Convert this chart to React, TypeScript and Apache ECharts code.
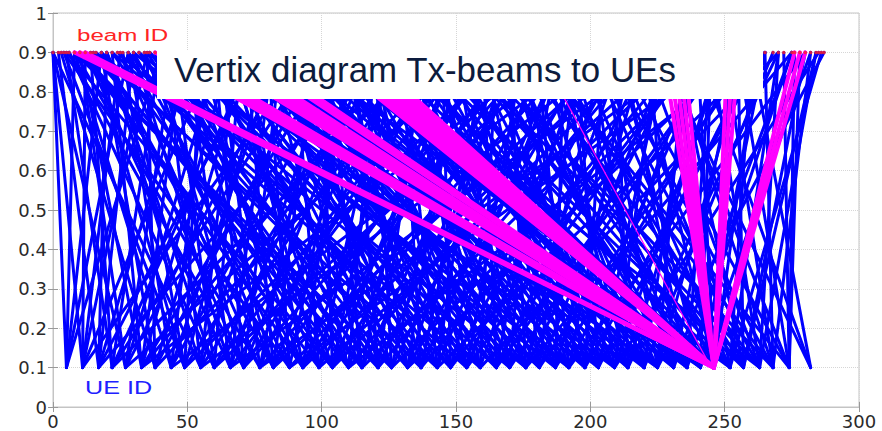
import React, { useEffect, useRef } from "react";
import * as echarts from "echarts";

// axis ranges / ticks
const xMin = 0;
const xMax = 300;
const xStep = 50;
const yMin = 0;
const yMax = 1;
const yStep = 0.1;

// levels of the two vertex rows
const beamLevel = 0.9;
const ueLevel = 0.1;

// UE positions along the bottom row
const ueIds = [
  5, 11, 17, 22, 27, 33, 38, 44, 49, 55, 60, 66, 71, 77, 82, 88, 93, 99, 104,
  110, 115, 121, 126, 132, 137, 143, 148, 154, 159, 165, 170, 176, 181, 187,
  192, 198, 203, 209, 214, 220, 225, 231, 236, 241, 246, 252, 257, 263, 268,
  274, 282,
];

// Tx-beams (top row) linked to each UE, blue links
const beamsPerUe = [
  [0, 18, 40, 8, 28],
  [0, 25, 60, 95, 12, 35],
  [2, 30, 52, 120, 20, 78],
  [5, 14, 75, 140, 40, 98],
  [0, 45, 88, 160, 10, 62],
  [10, 22, 66, 130, 185, 48, 105],
  [3, 35, 100, 150, 18, 72],
  [8, 58, 110, 200, 26, 84],
  [15, 28, 80, 170, 4, 55, 125],
  [0, 42, 92, 135, 210, 20, 68],
  [20, 70, 118, 190, 6, 45, 150],
  [12, 50, 105, 155, 225, 30, 82],
  [6, 38, 85, 145, 20, 60, 118, 178],
  [25, 62, 125, 180, 240, 8, 100],
  [18, 48, 98, 165, 34, 72, 130, 210],
  [4, 55, 112, 195, 250, 28, 80],
  [30, 72, 140, 215, 12, 50, 110, 170],
  [10, 44, 90, 160, 230, 66, 125],
  [22, 65, 128, 178, 5, 42, 100, 150, 220],
  [35, 80, 150, 205, 260, 15, 58, 120],
  [14, 56, 102, 170, 32, 85, 140, 235],
  [40, 95, 138, 220, 10, 65, 112, 175],
  [8, 68, 120, 185, 245, 36, 90, 155],
  [28, 86, 150, 200, 52, 110, 170, 255],
  [50, 108, 162, 235, 18, 75, 130, 190],
  [16, 74, 130, 190, 265, 42, 100, 160],
  [36, 96, 145, 212, 62, 118, 180, 240],
  [60, 115, 175, 240, 22, 88, 135, 200],
  [24, 82, 135, 198, 270, 50, 110, 165],
  [45, 105, 160, 222, 72, 128, 188, 250],
  [70, 125, 180, 250, 30, 95, 150, 212],
  [32, 90, 142, 205, 275, 60, 118, 170, 235],
  [55, 112, 168, 230, 80, 140, 195, 260],
  [78, 132, 190, 258, 42, 100, 160, 220],
  [40, 100, 152, 215, 280, 68, 125, 180, 245],
  [64, 120, 175, 240, 90, 145, 205, 265],
  [88, 140, 195, 262, 55, 115, 170, 228],
  [48, 110, 160, 225, 285, 80, 135, 190, 250],
  [75, 130, 182, 248, 100, 155, 210, 270],
  [95, 148, 200, 268, 65, 120, 175, 238],
  [58, 118, 170, 235, 287, 90, 145, 205, 258],
  [85, 138, 192, 255, 110, 165, 222, 275],
  [105, 158, 212, 275, 78, 130, 185, 245],
  [70, 128, 180, 245, 282, 100, 155, 210, 265],
  [120, 165, 218, 262, 140, 195, 240],
  [90, 150, 200, 270, 286, 125, 175, 230, 260],
  [135, 185, 232, 280, 160, 210, 255, 284],
  [110, 172, 220, 284, 150, 200, 245, 270],
  [155, 205, 250, 282, 180, 230, 265],
  [180, 228, 272, 276, 210, 255, 278],
  [226, 260, 240],
];

// magenta links: all beams serving the one heavily loaded UE
const hotUe = 246;
const hotBeams = [
  8, 10, 12, 38, 40, 42, 44, 46, 55, 57, 59, 61, 63, 65, 70, 72, 74, 100, 102,
  104, 106, 108, 110, 112, 114, 116, 227, 229, 231, 233, 235, 251, 253, 255,
  276, 278, 280,
];
const hotThinBeams = [181];

const titleText = "Vertix diagram Tx-beams to UEs";
const beamLabel = "beam ID";
const ueLabel = "UE ID";

export default function App() {
  const ref = useRef<HTMLDivElement>(null);

  useEffect(() => {
    if (!ref.current) return;
    const chart = echarts.init(ref.current, undefined, { renderer: "svg" });

    const blueData: any[] = [];
    ueIds.forEach((u, i) => {
      beamsPerUe[i].forEach((b) => {
        blueData.push({ coords: [[b, beamLevel], [u, ueLevel]] });
      });
    });
    const pinkData = hotBeams.map((b) => ({
      coords: [[b, beamLevel], [hotUe, ueLevel]],
    }));
    const pinkThinData = hotThinBeams.map((b) => ({
      coords: [[b, beamLevel], [hotUe - 1, ueLevel]],
    }));

    const allBeams = Array.from(
      new Set([...beamsPerUe.flat(), ...hotBeams, ...hotThinBeams])
    ).sort((a, b) => a - b);

    const labelFont = "DejaVu Sans";
    const axisColor = "#c4c4c4";

    const option: any = {
      animation: false,
      backgroundColor: "#ffffff",
      grid: {
        left: 53,
        right: 23,
        top: 13,
        bottom: 24,
        show: true,
        borderColor: axisColor,
        borderWidth: 1,
        backgroundColor: "#ffffff",
      },
      xAxis: [
        {
          type: "value",
          min: xMin,
          max: xMax,
          interval: xStep,
          axisLine: { show: true, lineStyle: { color: axisColor } },
          axisTick: { show: true, inside: true, length: 5, lineStyle: { color: "#999" } },
          axisLabel: {
            fontFamily: labelFont,
            fontSize: 18,
            color: "#2a2a2a",
            margin: 5,
          },
          splitLine: { show: true, lineStyle: { color: "#d6d6d6", type: "dotted" } },
        },
        {
          type: "value",
          position: "top",
          min: xMin,
          max: xMax,
          interval: xStep,
          axisLine: { show: true, lineStyle: { color: axisColor } },
          axisTick: { show: true, inside: true, length: 5, lineStyle: { color: "#999" } },
          axisLabel: { show: false },
          splitLine: { show: false },
        },
      ],
      yAxis: [
        {
          type: "value",
          min: yMin,
          max: yMax,
          interval: yStep,
          axisLine: { show: true, lineStyle: { color: axisColor } },
          axisTick: { show: true, inside: true, length: 5, lineStyle: { color: "#999" } },
          axisLabel: {
            fontFamily: labelFont,
            fontSize: 18,
            color: "#2a2a2a",
            margin: 6,
          },
          splitLine: { show: true, lineStyle: { color: "#d6d6d6", type: "dotted" } },
        },
        {
          type: "value",
          position: "right",
          min: yMin,
          max: yMax,
          interval: yStep,
          axisLine: { show: true, lineStyle: { color: axisColor } },
          axisTick: { show: true, inside: true, length: 5, lineStyle: { color: "#999" } },
          axisLabel: { show: false },
          splitLine: { show: false },
        },
      ],
      series: [
        {
          type: "lines",
          coordinateSystem: "cartesian2d",
          xAxisIndex: 0,
          yAxisIndex: 0,
          silent: true,
          z: 2,
          data: blueData,
          lineStyle: { color: "#0000ff", width: 3, opacity: 1, cap: "round", curveness: 0 },
        },
        {
          type: "lines",
          coordinateSystem: "cartesian2d",
          xAxisIndex: 0,
          yAxisIndex: 0,
          silent: true,
          z: 3,
          data: pinkData,
          lineStyle: { color: "#ff00ff", width: 4, opacity: 1, cap: "round", curveness: 0 },
        },
        {
          type: "lines",
          coordinateSystem: "cartesian2d",
          xAxisIndex: 0,
          yAxisIndex: 0,
          silent: true,
          z: 3,
          data: pinkThinData,
          lineStyle: { color: "#ff00ff", width: 1.2, opacity: 1, curveness: 0 },
        },
        {
          type: "scatter",
          xAxisIndex: 0,
          yAxisIndex: 0,
          silent: true,
          z: 4,
          symbol: "circle",
          symbolSize: 3.5,
          itemStyle: { color: "#ff2020" },
          data: allBeams.map((b) => [b, beamLevel]),
        },
      ],
      graphic: [
        {
          type: "rect",
          left: 157,
          top: 50,
          z: 100,
          shape: { width: 606, height: 49 },
          style: { fill: "#ffffff" },
        },
        {
          type: "text",
          x: 174,
          y: 70,
          z: 101,
          scaleX: 0.97,
          style: {
            text: titleText,
            font: '36px "Liberation Sans", Arial, sans-serif',
            fill: "#0c1b3d",
            verticalAlign: "middle",
          },
        },
        {
          type: "text",
          x: 77,
          y: 35,
          z: 101,
          scaleX: 1.42,
          style: {
            text: beamLabel,
            font: '17px "Liberation Sans", Arial, sans-serif',
            fill: "#ff2424",
            verticalAlign: "middle",
          },
        },
        {
          type: "text",
          x: 85,
          y: 388,
          z: 101,
          scaleX: 1.4,
          style: {
            text: ueLabel,
            font: '18px "Liberation Sans", Arial, sans-serif',
            fill: "#2020ff",
            verticalAlign: "middle",
          },
        },
      ],
    };

    chart.setOption(option);
    return () => chart.dispose();
  }, []);

  return (
    <div
      ref={ref}
      style={{ position: "fixed", left: 0, top: 0, width: 882, height: 431, background: "#fff" }}
    />
  );
}
